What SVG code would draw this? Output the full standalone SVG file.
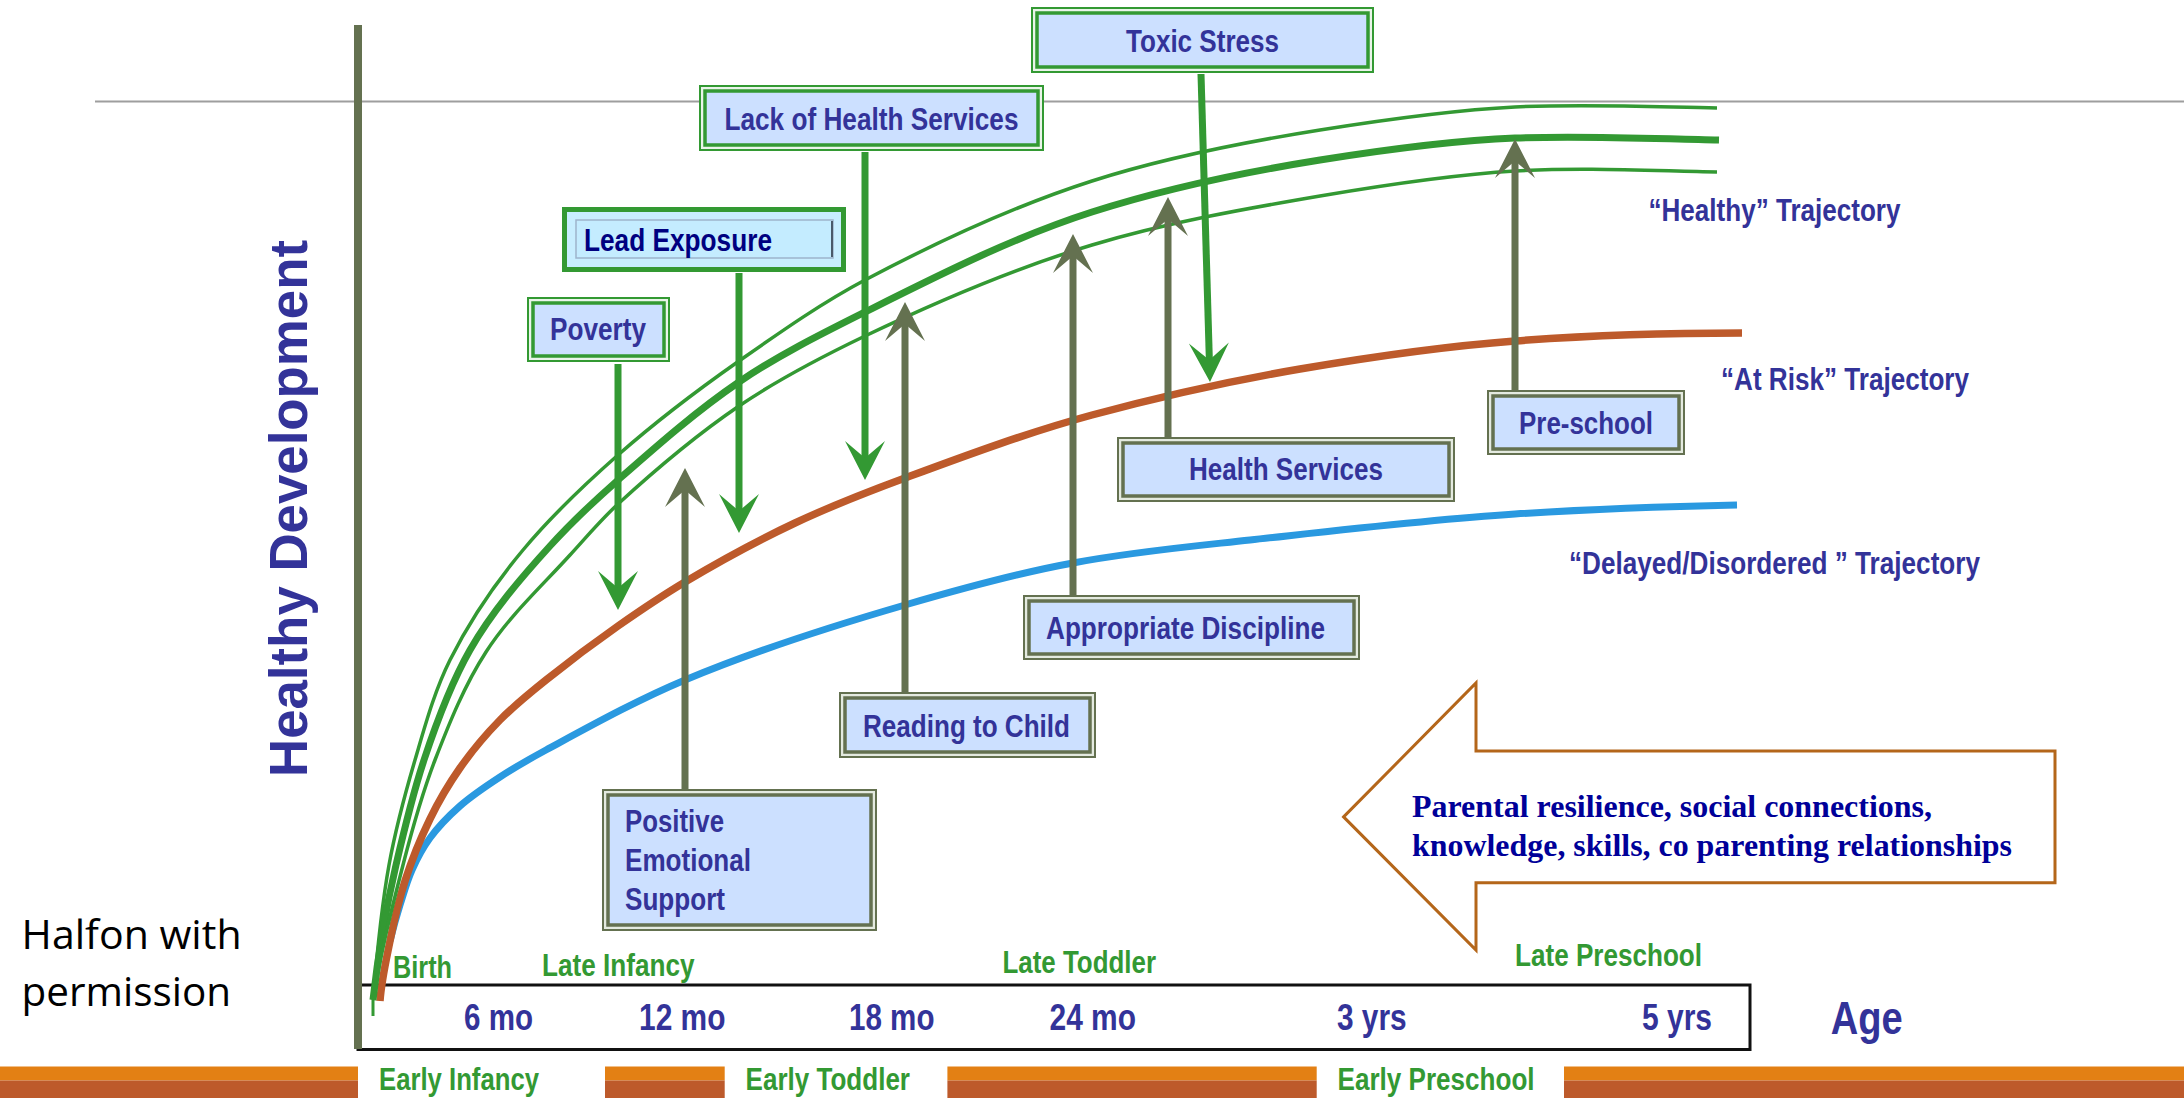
<svg xmlns="http://www.w3.org/2000/svg" width="2184" height="1098" viewBox="0 0 2184 1098">
<style>
.lbl{font-family:'Liberation Sans Narrow','Liberation Sans',Arial,sans-serif;font-weight:bold;font-size:32px;fill:#333399}
.ph{font-family:'Liberation Sans Narrow','Liberation Sans',Arial,sans-serif;font-weight:bold;font-size:32px;fill:#339933}
.age{font-size:36px}
.go{fill:#EAF4EA;stroke:#339933;stroke-width:2}
.gi{fill:#CCE0FF;stroke:#339933;stroke-width:3.5}
.oo{fill:#E4EAE0;stroke:#647150;stroke-width:2}
.oi{fill:#CCE0FF;stroke:#647150;stroke-width:3.5}
.gsh{stroke:#339933;stroke-width:7;fill:none}
.osh{stroke:#647150;stroke-width:7;fill:none}
.cv{fill:none;stroke-linecap:butt}
.band1{fill:#E38014}
.band2{fill:#BD5A2B}
</style>
<defs>
<marker id="ahG" viewBox="-20 -22 44 44" markerWidth="44" markerHeight="44" refX="0" refY="0" orient="auto" markerUnits="userSpaceOnUse"><path d="M22,0 L-17,-20 L0,0 L-17,20 Z" fill="#339933"/></marker>
<marker id="ahO" viewBox="-20 -22 44 44" markerWidth="44" markerHeight="44" refX="0" refY="0" orient="auto" markerUnits="userSpaceOnUse"><path d="M22,0 L-17,-20 L0,0 L-17,20 Z" fill="#647150"/></marker>
</defs>
<rect x="0" y="0" width="2184" height="1098" fill="#FFFFFF"/>

<line x1="95" y1="101.5" x2="2184" y2="101.5" stroke="#9E9E9E" stroke-width="2"/>
<rect x="358" y="985" width="1392" height="64.5" fill="none" stroke="#111111" stroke-width="3"/>

<g id="trajectories">
<path class="cv" stroke="#2A99E0" stroke-width="7" d="M390,941 C393,928.9 396.3,916.9 400,905 C403.7,893.3 407,881.2 412,870 C417,858.8 422.8,847.9 430,838 C438.6,826.2 449,815.7 460,806 C472.4,795.1 486.2,786 500,777 C514.9,767.3 530.3,758.5 546,750 C591.7,725.3 637.1,700.1 685,680 C756.5,650 830.6,626.6 905,605 C960.4,588.9 1016.2,573.2 1073,563 C1131.4,551.9 1190.9,546.5 1250,540 C1338.3,530.3 1426.4,519.8 1515,514 C1589,509.2 1662.9,506.5 1737,505"/>
<path class="cv" stroke="#BD5A2B" stroke-width="7.5" d="M380,1001 C381.4,980.7 386,960.9 390,941 C394,920.8 398.7,900.6 405,881 C411.8,859.8 420.2,839 430,819 C438.6,801.3 448.7,784.1 460,768 C471.9,751 485.4,734.9 500,720 C514.2,705.5 530.1,692.7 546,680 C569.4,661.2 593.4,643.2 618,626 C639.9,610.7 662.1,595.7 685,582 C720.7,560.6 757.4,540.7 795,523 C830.8,506.2 867.9,491.7 905,478 C966.7,455.2 1028.5,432.2 1092,415 C1160.5,396.5 1230,380.9 1300,369 C1371.3,356.9 1442.9,346.4 1515,341 C1590.5,335.3 1666.3,333 1742,333"/>
<line x1="373" y1="1000" x2="373" y2="1016" stroke="#339933" stroke-width="3"/>
<path class="cv" stroke="#339933" stroke-width="3.5" d="M373,1000 C376.8,954.8 380.9,909.6 389,865 C395.5,829.5 404.8,794.6 415,760 C425,726.1 434.2,691.6 450,660 C469.7,620.7 494.8,583.8 523,550 C551.7,515.6 584.4,484.6 618,455 C656.4,421.2 697.2,390.3 739,361 C779.9,332.4 820.9,303.4 865,280 C937.9,241.4 1013.5,206.2 1092,181 C1166.2,157.2 1243.1,142.3 1320,130 C1384.6,119.7 1449.6,110.3 1515,107 C1582.2,103.6 1649.7,106.7 1717,108"/>
<path class="cv" stroke="#339933" stroke-width="7" d="M373,1000 C378,954.6 385.7,909.5 396,865 C404.2,829.7 412.6,794.4 424,760 C436.5,722.3 450.3,684.5 470,650 C491.7,612.1 520.6,578.3 550,546 C571.3,522.6 594.3,500.9 618,480 C657,445.7 696.1,411.2 739,382 C778.7,355 822.1,333.5 865,312 C938.9,275 1013.3,237.2 1092,212 C1166.3,188.2 1243,172.3 1320,160 C1384.6,149.7 1449.7,140.6 1515,138 C1582.9,135.3 1651,138.6 1719,140"/>
<path class="cv" stroke="#339933" stroke-width="3.5" d="M374,1000 C379.7,954.4 391.6,909.6 403,865 C412.1,829.5 421.9,794.1 435,760 C449.3,722.9 464.4,685.4 486,652 C509.2,616 541.2,586.7 570,555 C585.7,537.8 600.9,519.8 618,504 C656.2,468.9 696.1,435.2 739,406 C778.7,379 821.7,356.8 865,336 C938.5,300.7 1013.9,268.4 1092,245 C1166.4,222.7 1243.4,209.1 1320,196 C1384.6,185 1449.6,174.9 1515,171 C1582.2,167 1649.7,170.7 1717,172"/>
</g>

<g id="connectors">
<line class="gsh" x1="618" y1="364" x2="618" y2="588" marker-end="url(#ahG)"/>
<line class="gsh" x1="739" y1="273" x2="739" y2="511" marker-end="url(#ahG)"/>
<line class="gsh" x1="865" y1="152" x2="865" y2="458" marker-end="url(#ahG)"/>
<line class="gsh" x1="1201" y1="74" x2="1209.35" y2="360" marker-end="url(#ahG)"/>
<line class="osh" x1="685" y1="792" x2="685" y2="490" marker-end="url(#ahO)"/>
<line class="osh" x1="905" y1="694" x2="905" y2="324" marker-end="url(#ahO)"/>
<line class="osh" x1="1073" y1="597" x2="1073" y2="256" marker-end="url(#ahO)"/>
<line class="osh" x1="1168" y1="440" x2="1168" y2="219" marker-end="url(#ahO)"/>
<line class="osh" x1="1515" y1="393" x2="1515" y2="161" marker-end="url(#ahO)"/>
</g>

<g id="toxic-stress">
<rect class="go" x="1032" y="8" width="341" height="64"/>
<rect class="gi" x="1037" y="13" width="331" height="54"/>
<text class="lbl" x="1202.5" y="52" text-anchor="middle" textLength="153" lengthAdjust="spacingAndGlyphs">Toxic Stress</text>
</g>
<g id="lack-of-health-services">
<rect class="go" x="700" y="86" width="343" height="64"/>
<rect class="gi" x="705" y="91" width="333" height="54"/>
<text class="lbl" x="871.5" y="130" text-anchor="middle" textLength="294" lengthAdjust="spacingAndGlyphs">Lack of Health Services</text>
</g>
<g id="lead-exposure">
<rect x="564.5" y="209.5" width="279" height="60" fill="#C8EEFF" stroke="#339933" stroke-width="5"/>
<rect x="576" y="220" width="257" height="38" fill="#C4ECFF" stroke="#9DB4CC" stroke-width="1.5"/>
<line x1="832" y1="221" x2="832" y2="257" stroke="#4A5A6A" stroke-width="2"/>
<text class="lbl" x="584" y="251" style="fill:#000080" textLength="188" lengthAdjust="spacingAndGlyphs">Lead Exposure</text>
</g>
<g id="poverty">
<rect class="go" x="528" y="298" width="141" height="63"/>
<rect class="gi" x="533" y="303" width="131" height="53"/>
<text class="lbl" x="598" y="340" text-anchor="middle" textLength="96" lengthAdjust="spacingAndGlyphs">Poverty</text>
</g>

<g id="health-services">
<rect class="oo" x="1118" y="438" width="336" height="63"/>
<rect class="oi" x="1123" y="443" width="326" height="53"/>
<text class="lbl" x="1286" y="480" text-anchor="middle" textLength="194" lengthAdjust="spacingAndGlyphs">Health Services</text>
</g>
<g id="pre-school">
<rect class="oo" x="1488" y="391" width="196" height="63"/>
<rect class="oi" x="1493" y="396" width="186" height="53"/>
<text class="lbl" x="1586" y="434" text-anchor="middle" textLength="134" lengthAdjust="spacingAndGlyphs">Pre-school</text>
</g>
<g id="appropriate-discipline">
<rect class="oo" x="1024" y="596" width="335" height="63"/>
<rect class="oi" x="1029" y="601" width="325" height="53"/>
<text class="lbl" x="1046" y="639" textLength="279" lengthAdjust="spacingAndGlyphs">Appropriate Discipline</text>
</g>
<g id="reading-to-child">
<rect class="oo" x="840" y="693" width="255" height="64"/>
<rect class="oi" x="845" y="698" width="245" height="54"/>
<text class="lbl" x="863" y="737" textLength="207" lengthAdjust="spacingAndGlyphs">Reading to Child</text>
</g>
<g id="positive-emotional-support">
<rect class="oo" x="603" y="790" width="273" height="140"/>
<rect class="oi" x="608" y="795" width="263" height="130"/>
<text class="lbl" x="625" y="832" textLength="99" lengthAdjust="spacingAndGlyphs">Positive</text>
<text class="lbl" x="625" y="871" textLength="126" lengthAdjust="spacingAndGlyphs">Emotional</text>
<text class="lbl" x="625" y="910" textLength="100" lengthAdjust="spacingAndGlyphs">Support</text>
</g>

<g id="trajectory-labels">
<text class="lbl" x="1648.5" y="221" textLength="252" lengthAdjust="spacingAndGlyphs">“Healthy” Trajectory</text>
<text class="lbl" x="1721" y="390" textLength="248" lengthAdjust="spacingAndGlyphs">“At Risk” Trajectory</text>
<text class="lbl" x="1569" y="573.5" textLength="411" lengthAdjust="spacingAndGlyphs">“Delayed/Disordered ” Trajectory</text>
</g>

<g id="parental-factors">
<polygon points="1343.6,816.9 1476,683 1476,751 2055,751 2055,882.7 1476,882.7 1476,950" fill="#FFFFFF" stroke="#B4661A" stroke-width="3"/>
<text x="1412" y="817" font-family="'Liberation Serif','Times New Roman',serif" font-weight="bold" font-size="32" fill="#000099" textLength="520" lengthAdjust="spacingAndGlyphs">Parental resilience, social connections,</text>
<text x="1412" y="856" font-family="'Liberation Serif','Times New Roman',serif" font-weight="bold" font-size="32" fill="#000099" textLength="600" lengthAdjust="spacingAndGlyphs">knowledge, skills, co parenting relationships</text>
</g>

<g id="axis-y">
<text transform="translate(307,508.5) rotate(-90)" text-anchor="middle" font-family="'Liberation Sans',Arial,sans-serif" font-weight="bold" font-size="53" fill="#333399" textLength="537" lengthAdjust="spacingAndGlyphs">Healthy Development</text>
</g>
<g id="axis-x">
<text class="lbl age" x="464" y="1030" textLength="69" lengthAdjust="spacingAndGlyphs">6 mo</text>
<text class="lbl age" x="639" y="1030" textLength="86.5" lengthAdjust="spacingAndGlyphs">12 mo</text>
<text class="lbl age" x="849" y="1030" textLength="85.5" lengthAdjust="spacingAndGlyphs">18 mo</text>
<text class="lbl age" x="1049.5" y="1030" textLength="86.5" lengthAdjust="spacingAndGlyphs">24 mo</text>
<text class="lbl age" x="1337" y="1030" textLength="69.6" lengthAdjust="spacingAndGlyphs">3 yrs</text>
<text class="lbl age" x="1642" y="1030" textLength="70" lengthAdjust="spacingAndGlyphs">5 yrs</text>
<text class="lbl" x="1830.7" y="1034" style="font-size:46px" textLength="72" lengthAdjust="spacingAndGlyphs">Age</text>
</g>
<g id="phase-labels">
<text class="ph" x="393" y="978" textLength="59" lengthAdjust="spacingAndGlyphs">Birth</text>
<text class="ph" x="542" y="976" textLength="152.5" lengthAdjust="spacingAndGlyphs">Late Infancy</text>
<text class="ph" x="1002.5" y="973" textLength="153.5" lengthAdjust="spacingAndGlyphs">Late Toddler</text>
<text class="ph" x="1515" y="966" textLength="187" lengthAdjust="spacingAndGlyphs">Late Preschool</text>
</g>

<g id="band">
<rect class="band1" x="0" y="1066.5" width="358" height="14"/>
<rect class="band2" x="0" y="1080.5" width="358" height="17.5"/>
<rect class="band1" x="605" y="1066.5" width="119.7" height="14"/>
<rect class="band2" x="605" y="1080.5" width="119.7" height="17.5"/>
<rect class="band1" x="947.4" y="1066.5" width="369.3" height="14"/>
<rect class="band2" x="947.4" y="1080.5" width="369.3" height="17.5"/>
<rect class="band1" x="1564" y="1066.5" width="620" height="14"/>
<rect class="band2" x="1564" y="1080.5" width="620" height="17.5"/>
<text class="ph" x="379" y="1090" textLength="160" lengthAdjust="spacingAndGlyphs">Early Infancy</text>
<text class="ph" x="745.6" y="1090" textLength="164.4" lengthAdjust="spacingAndGlyphs">Early Toddler</text>
<text class="ph" x="1337.6" y="1090" textLength="197" lengthAdjust="spacingAndGlyphs">Early Preschool</text>
</g>

<line x1="358" y1="25" x2="358" y2="1049" stroke="#647150" stroke-width="8"/>

<g id="credit">
<text x="21.6" y="949" font-family="'Open Sans','Noto Sans',sans-serif" font-size="41" fill="#000000" textLength="220" lengthAdjust="spacingAndGlyphs">Halfon with</text>
<text x="21.6" y="1006" font-family="'Open Sans','Noto Sans',sans-serif" font-size="41" fill="#000000" textLength="209.5" lengthAdjust="spacingAndGlyphs">permission</text>
</g>
</svg>
